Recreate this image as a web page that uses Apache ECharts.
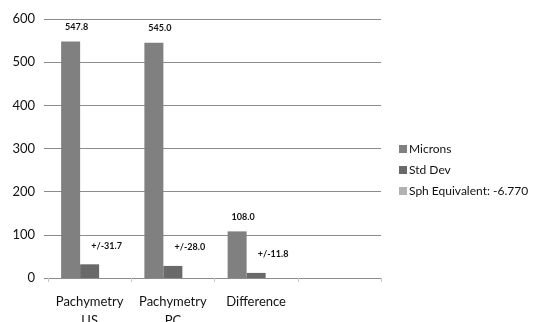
<!DOCTYPE html>
<html>
<head>
<meta charset="utf-8">
<script src="https://cdn.jsdelivr.net/npm/echarts@6/dist/echarts.min.js"></script>
<style>
  html, body { margin: 0; padding: 0; background: #fff; }
  #chart { width: 543px; height: 322px; }
</style>
</head>
<body>
<div id="chart"></div>
<script>
var categories = ['Pachymetry\nUS', 'Pachymetry\nPC', 'Difference', ''];
var microns = [547.8, 545.0, 108.0, '-'];
var stdDev = [31.7, 28.0, 11.8, '-'];
var sphEquivalent = ['-', '-', '-', '-'];
var yTicks = { min: 0, max: 600, interval: 100 };

var font = 'Lato, "Open Sans", sans-serif';

var myChart = echarts.init(document.getElementById('chart'));

var option = {
    animation: false,
    grid: { left: 48, right: 162, top: 19, bottom: 44, containLabel: false, outerBoundsMode: 'none' },
    legend: {
        orient: 'vertical',
        left: 394,
        top: 137,
        itemWidth: 8,
        itemHeight: 8,
        itemGap: 7,
        icon: 'rect',
        textStyle: { fontFamily: font, fontSize: 12, color: '#111', lineHeight: 14, padding: [0, 0, 0, -3] },
        data: ['Microns', 'Std Dev', 'Sph Equivalent: -6.770']
    },
    xAxis: {
        type: 'category',
        data: categories,
        axisLine: { lineStyle: { color: '#8c8c8c' } },
        axisTick: { show: true, length: 4, lineStyle: { color: '#c8c8c8' } },
        axisLabel: { fontFamily: font, fontSize: 13, color: '#111', margin: 14, lineHeight: 19, interval: 0 }
    },
    yAxis: {
        type: 'value',
        min: yTicks.min,
        max: yTicks.max,
        interval: yTicks.interval,
        axisLine: { show: false },
        axisTick: { show: true, length: 4, lineStyle: { color: '#8c8c8c' } },
        splitLine: { lineStyle: { color: '#8c8c8c' } },
        axisLabel: { fontFamily: font, fontSize: 13, color: '#111', margin: 13 }
    },
    series: [
        {
            name: 'Microns',
            type: 'bar',
            barWidth: 19,
            barGap: '0%',
            data: microns,
            itemStyle: { color: '#808080' },
            label: {
                show: true,
                position: 'top',
                offset: [6, -5],
                fontFamily: font,
                fontSize: 9,
                fontWeight: 'bold',
                color: '#111',
                formatter: function (p) { return p.value.toFixed(1); }
            }
        },
        {
            name: 'Std Dev',
            type: 'bar',
            barWidth: 19,
            barGap: '0%',
            data: stdDev,
            itemStyle: { color: '#696969' },
            label: {
                show: true,
                position: 'top',
                offset: [17, -9],
                fontFamily: font,
                fontSize: 9,
                fontWeight: 'bold',
                color: '#111',
                formatter: function (p) { return '+/-' + p.value.toFixed(1); }
            }
        },
        {
            name: 'Sph Equivalent: -6.770',
            type: 'bar',
            barWidth: 19,
            barGap: '0%',
            data: sphEquivalent,
            itemStyle: { color: '#b2b2b2' }
        }
    ]
};

myChart.setOption(option);
</script>
</body>
</html>
